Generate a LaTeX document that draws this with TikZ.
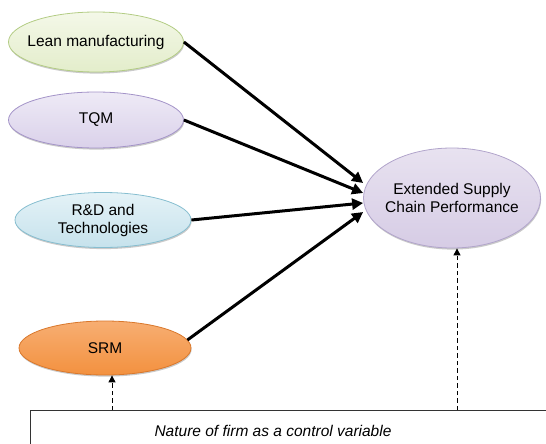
\documentclass[tikz,border=0pt]{standalone}
\usepackage{fontspec}
\setmainfont{Liberation Sans}
\usetikzlibrary{arrows.meta,shadows,shapes.geometric}
\definecolor{leanfill}{HTML}{E3EDCB}
\definecolor{leantop}{HTML}{F4F8E8}
\definecolor{leanline}{HTML}{B3CC84}
\definecolor{tqmfill}{HTML}{DAD1EA}
\definecolor{tqmtop}{HTML}{EEEAF6}
\definecolor{tqmline}{HTML}{A393C8}
\definecolor{rdfill}{HTML}{C6E2EC}
\definecolor{rdtop}{HTML}{E4F2F7}
\definecolor{rdline}{HTML}{86BED0}
\definecolor{srmfill}{HTML}{F3913F}
\definecolor{srmtop}{HTML}{F7AE72}
\definecolor{srmline}{HTML}{D9782C}
\definecolor{escfill}{HTML}{D6CCE5}
\definecolor{esctop}{HTML}{E8E2F0}
\definecolor{escline}{HTML}{B1A4CB}
\tikzset{
  construct/.style={ellipse, draw, line width=0.8pt, align=center,
    font=\fontsize{15.5}{18}\selectfont, inner sep=-12pt,
    drop shadow={shadow xshift=0.6pt, shadow yshift=-1.6pt, opacity=0.35, fill=black!60}},
  path/.style={line width=3pt, -{Triangle[length=11pt,width=11pt]}},
  control/.style={line width=1pt, dash pattern=on 4.5pt off 3pt,
    -{Triangle[length=7pt,width=7pt]}},
}
\begin{document}
\begin{tikzpicture}[x=1pt,y=-1pt]
\useasboundingbox (0,0) rectangle (546,444);
% antecedent constructs
\node[construct, minimum width=175pt, minimum height=60pt, draw=leanline,
  top color=leantop, bottom color=leanfill] (lean) at (96,42) {Lean manufacturing};
\node[construct, minimum width=175pt, minimum height=56pt, draw=tqmline,
  top color=tqmtop, bottom color=tqmfill] (tqm) at (96,120) {TQM};
\node[construct, minimum width=176pt, minimum height=55pt, draw=rdline,
  top color=rdtop, bottom color=rdfill] (rd) at (103,220) {R\&D and\\Technologies};
\node[construct, minimum width=172pt, minimum height=54pt, draw=srmline,
  top color=srmtop, bottom color=srmfill] (srm) at (105,348) {SRM};
% outcome construct
\node[construct, minimum width=177pt, minimum height=100pt, draw=escline,
  top color=esctop, bottom color=escfill] (esc) at (452,198) {Extended Supply\\Chain Performance};
% control variable box, running past the lower and right edges
\draw[line width=0.8pt, draw=black!80, fill=white] (30,410) rectangle (560,460);
\node[font=\fontsize{15.5}{18}\selectfont\itshape] (ctrl) at (273,431) {Nature of firm as a control variable};
\coordinate (c1) at (112,410);
\coordinate (c2) at (457,410);
% paths
\draw[path] (lean.east) -- (esc.west |- 0,183);
\draw[path] (tqm.east) -- (esc.west |- 0,193);
\draw[path] (rd.east) -- (esc.west |- 0,203);
\draw[path] (srm.east) ++(-4,-8) -- (esc.west |- 0,212);
% control links
\draw[control] (c1) -- (srm.south -| c1);
\draw[control] (c2) -- (esc.south -| c2);
\end{tikzpicture}
\end{document}
